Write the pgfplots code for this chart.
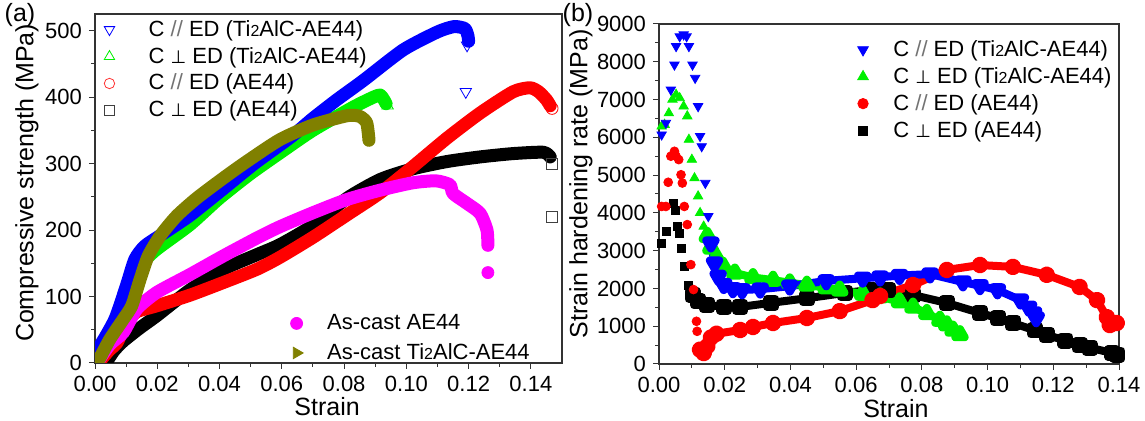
\documentclass[border=0pt]{standalone}
\usepackage{pgfplots}
\pgfplotsset{compat=1.18}
\usepackage{fontspec}
\setmainfont{Liberation Sans}
\newfontfamily\dv{DejaVu Sans}

\definecolor{olv}{RGB}{128,128,0}
\definecolor{mgt}{RGB}{255,0,255}
\definecolor{grn}{RGB}{0,240,0}

\newcommand{\Ti}{Ti{\fontsize{8}{8}\selectfont 2}AlC}
\newcommand{\pll}{{\color{black!55}//}}
\newcommand{\prp}{{\dv\fontsize{9}{9}\selectfont ⊥}}

\pgfplotsset{
  base/.style={
    scale only axis,
    axis line style={line width=0.6pt, black!80},
    tick align=outside,
    xtick pos=bottom, ytick pos=left,
    major tick length=3pt, minor tick length=1.8pt,
    every tick/.style={black!80, line width=0.5pt},
    /pgf/number format/assume math mode=true,
    tick label style={font=\fontsize{11}{13}\selectfont},
    label style={font=\fontsize{12.5}{14}\selectfont},
    legend cell align=left,
    legend style={draw=none, fill=none, font=\fontsize{11}{12.5}\selectfont,
      row sep=0pt, inner sep=0pt,
      /tikz/every odd column/.append style={column sep=15pt}},
  },
  band/.style={line width=6.5pt, line cap=round, line join=round, smooth, tension=0.4, forget plot},
  dense/.style={line width=4pt, line join=round},
}

\begin{document}
\begin{tikzpicture}
\path[use as bounding box] (0,0) rectangle (572.5pt,210.5pt);

% ---------------- (a) ----------------
\begin{axis}[base,
  at={(47.5pt,29pt)}, anchor=south west,
  width=233.5pt, height=174.5pt,
  xmin=0, xmax=0.15, ymin=0, ymax=525,
  xtick={0,0.02,0.04,0.06,0.08,0.10,0.12,0.14},
  ytick={0,100,200,300,400,500},
  minor x tick num=1, minor y tick num=1,
  xticklabel style={/pgf/number format/.cd, fixed, fixed zerofill, precision=2},
  xlabel={Strain}, ylabel={Compressive strength (MPa)},
  xlabel style={at={(axis description cs:0.497,-0.126)}, anchor=center},
  ylabel style={at={(axis description cs:-0.146,0.516)}, anchor=center},
  legend style={at={(axis description cs:0.019,0.995)}, anchor=north west},
]
\addlegendimage{only marks, mark=triangle, mark size=3pt, mark options={rotate=180}, blue}
\addlegendentry{C \pll\ ED (\Ti-AE44)}
\addlegendimage{only marks, mark=triangle, mark size=3pt, grn}
\addlegendentry{C \prp\ ED (\Ti-AE44)}
\addlegendimage{only marks, mark=o, mark size=2.6pt, red!80}
\addlegendentry{C \pll\ ED (AE44)}
\addlegendimage{only marks, mark=square, mark size=2.4pt, black!75}
\addlegendentry{C \prp\ ED (AE44)}

% C perp ED (Ti2AlC-AE44)
\addplot[band, grn] coordinates {
(0,0)(0.004,20)(0.008,55)(0.011,100)(0.013,140)(0.0145,148)(0.0198,171)(0.0305,208)
(0.04,248)(0.05,285)(0.06,318)(0.07,350)(0.083,385)(0.0895,400)(0.0916,403)
(0.0928,396)(0.0935,390)};
% C // ED (Ti2AlC-AE44)
\addplot[band, blue] coordinates {
(0,20)(0.0016,26)(0.0064,66)(0.0102,118)(0.0128,156)(0.016,176)(0.022,195)
(0.0305,222)(0.0412,262)(0.0512,300)(0.0629,340)(0.070,368)(0.0777,396)(0.0862,425)
(0.099,471)(0.110,498)(0.1153,506)(0.1188,503)(0.1198,492)(0.12,484)};
% C perp ED (AE44)
\addplot[band, black] coordinates {
(0.0035,0)(0.006,18)(0.0091,33)(0.0145,53)(0.0198,71)(0.0305,110)(0.0412,141)
(0.052,163)(0.0594,178)(0.070,207)(0.081,248)(0.0916,276)(0.102,292)(0.113,303)
(0.1237,310)(0.1343,315)(0.144,317)(0.1462,310)};
% C // ED (AE44)
\addplot[band, red] coordinates {
(0.001,0)(0.0047,20)(0.007,30)(0.0102,61)(0.0134,77)(0.0198,86)(0.0305,102)
(0.0412,121)(0.052,141)(0.0594,159)(0.070,189)(0.081,223)(0.0916,256)(0.102,295)
(0.113,338)(0.1237,376)(0.1343,408)(0.1397,414)(0.1425,408)(0.145,396)(0.1462,387)};
% As-cast AE44
\addplot[band, mgt] coordinates {
(0.0012,4)(0.0048,28)(0.0091,46)(0.0134,81)(0.0198,106)(0.0305,133)(0.0412,161)
(0.052,188)(0.0594,205)(0.070,226)(0.081,246)(0.0916,260)(0.102,271)(0.1095,274)
(0.114,268)(0.115,255)(0.1195,240)(0.1237,225)(0.1259,200)(0.1262,177)};
% As-cast Ti2AlC-AE44
\addplot[band, olv] coordinates {
(0.0006,0)(0.0016,8)(0.0048,36)(0.0091,66)(0.0118,86)(0.0145,126)(0.0171,161)
(0.0209,191)(0.0262,221)(0.0327,248)(0.0412,278)(0.0487,303)(0.0594,336)
(0.070,358)(0.081,372)(0.085,371)(0.0872,362)(0.0878,345)(0.088,335)};

% isolated end points
\addplot[only marks, mark=triangle, mark size=3.3pt, mark options={rotate=180}, blue, forget plot]
  coordinates {(0.1195,478)(0.1191,408)};
\addplot[only marks, mark=triangle, mark size=3.3pt, grn, forget plot]
  coordinates {(0.094,387)};
\addplot[only marks, mark=o, mark size=3pt, red, forget plot]
  coordinates {(0.1468,383)};
\addplot[only marks, mark=square, mark size=2.8pt, black!75, forget plot]
  coordinates {(0.1468,299)(0.1468,220)};
\addplot[only marks, mark=*, mark size=3pt, mgt, forget plot]
  coordinates {(0.1262,136)};
\end{axis}

% second legend of (a)
\begin{axis}[base, hide axis,
  at={(47.5pt,29pt)}, anchor=south west,
  width=233.5pt, height=174.5pt,
  xmin=0, xmax=1, ymin=0, ymax=1,
  legend style={at={(axis description cs:0.418,0.152)}, anchor=north west, row sep=1.5pt,
    /tikz/every odd column/.append style={column sep=10pt}},
]
\addlegendimage{only marks, mark=*, mark size=3pt, mgt}
\addlegendentry{As-cast AE44}
\addlegendimage{only marks, mark=triangle*, mark size=3.3pt, mark options={rotate=-90}, olv}
\addlegendentry{As-cast \Ti-AE44}
\end{axis}

% ---------------- (b) ----------------
\begin{axis}[base,
  at={(329.5pt,28.5pt)}, anchor=south west,
  width=230pt, height=170pt,
  xmin=0, xmax=0.14, ymin=0, ymax=9000,
  xtick={0,0.02,0.04,0.06,0.08,0.10,0.12,0.14},
  ytick={0,1000,2000,3000,4000,5000,6000,7000,8000,9000},
  minor x tick num=1, minor y tick num=1,
  xticklabel style={/pgf/number format/.cd, fixed, fixed zerofill, precision=2},
  yticklabel style={/pgf/number format/.cd, 1000 sep={}},
  scaled y ticks=false,
  xlabel={Strain}, ylabel={Strain hardening rate (MPa)},
  xlabel style={at={(axis description cs:0.515,-0.132)}, anchor=center},
  ylabel style={at={(axis description cs:-0.17,0.53)}, anchor=center},
  legend style={at={(axis description cs:0.431,0.965)}, anchor=north west,
    /tikz/every odd column/.append style={column sep=10.5pt}},
]
\addlegendimage{only marks, mark=triangle*, mark size=3.1pt, mark options={rotate=180}, blue}
\addlegendentry{C \pll\ ED (\Ti-AE44)}
\addlegendimage{only marks, mark=triangle*, mark size=3.1pt, grn}
\addlegendentry{C \prp\ ED (\Ti-AE44)}
\addlegendimage{only marks, mark=*, mark size=2.6pt, red}
\addlegendentry{C \pll\ ED (AE44)}
\addlegendimage{only marks, mark=square*, mark size=2.3pt, black}
\addlegendentry{C \prp\ ED (AE44)}

% C perp ED (AE44)
\addplot[only marks, mark=square*, mark size=2pt, black, forget plot] coordinates {
(0.0008,3200)(0.0021,3510)(0.0043,4240)(0.0049,4070)(0.0056,3640)(0.0063,3470)
(0.0069,3070)(0.0077,2590)(0.0088,2070)};
\addplot[dense, black, mark=square*, mark size=2pt, forget plot] coordinates {
(0.0102,1835)(0.0119,1660)(0.0146,1560)(0.0197,1520)(0.0247,1510)(0.0342,1620)
(0.045,1740)(0.0565,1880)(0.0643,1960)(0.0698,1950)(0.0773,1826)(0.0876,1615)
(0.0977,1350)(0.1032,1210)(0.1077,1085)(0.1144,890)(0.118,770)(0.1237,620)
(0.128,500)(0.1311,430)(0.138,290)(0.1395,250)};
% C perp ED (Ti2AlC-AE44)
\addplot[only marks, mark=triangle*, mark size=2.7pt, grn, forget plot] coordinates {
(0.0008,6290)(0.0017,6335)(0.003,6640)(0.0041,7000)(0.0052,7130)(0.0063,7040)
(0.0075,6820)(0.0086,6560)(0.0091,5940)(0.01,5410)(0.0108,4920)(0.0119,4440)
(0.0125,4000)(0.0136,3640)};
\addplot[dense, grn, mark=triangle*, mark size=2.7pt, forget plot] coordinates {
(0.0147,3380)(0.0158,3070)(0.0175,2810)(0.0195,2590)(0.0231,2410)(0.0286,2290)
(0.0347,2220)(0.0398,2150)(0.045,2090)(0.0509,2020)(0.055,1960)(0.062,1850)
(0.0673,1780)(0.0732,1650)(0.0773,1510)(0.0815,1340)(0.0855,1160)(0.0876,1040)
(0.0895,900)(0.0916,780)};
% C // ED (AE44)
\addplot[only marks, mark=*, mark size=2.2pt, red, forget plot] coordinates {
(0.0008,4170)(0.0021,4170)(0.0028,4810)(0.0036,5500)(0.0047,5630)(0.0052,5500)
(0.006,5410)(0.0067,5010)(0.0071,4790)(0.0077,4170)(0.0086,3690)(0.0097,2630)
(0.0105,1970)(0.0114,1130)(0.0116,865)};
\addplot[dense, red, mark=*, mark size=2.2pt, forget plot] coordinates {
(0.0125,380)(0.0136,290)(0.0147,470)(0.0158,700)(0.0175,800)(0.0247,900)
(0.0286,980)(0.0347,1085)(0.045,1218)(0.055,1400)(0.065,1690)(0.0673,1800)
(0.0773,2090)(0.0876,2490)(0.0977,2620)(0.1077,2570)(0.118,2360)(0.128,2040)
(0.1333,1690)(0.1363,1240)(0.1372,1030)(0.1393,1085)};
% C // ED (Ti2AlC-AE44)
\addplot[only marks, mark=triangle*, mark size=2.7pt, mark options={rotate=180}, blue, forget plot] coordinates {
(0.0008,6070)(0.0021,6380)(0.0036,7260)(0.0047,7920)(0.0052,8410)(0.0063,8670)
(0.0075,8720)(0.0084,8670)(0.0091,8410)(0.0102,7920)(0.011,7570)(0.0119,6820)
(0.0125,6030)(0.013,5760)(0.0141,4790)(0.015,3910)};
\addplot[dense, blue, mark=triangle*, mark size=2.7pt, mark options={rotate=180}, forget plot] coordinates {
(0.0158,3200)(0.0169,2670)(0.018,2320)(0.0197,2100)(0.0225,1990)(0.0253,1960)
(0.0308,1980)(0.0398,2060)(0.0509,2200)(0.062,2270)(0.0673,2300)(0.0732,2340)
(0.0825,2380)(0.0925,2170)(0.0977,2070)(0.103,1960)(0.110,1690)(0.1125,1500)
(0.114,1350)(0.1148,1220)};
\end{axis}

\node at (10pt,203pt) {\fontsize{12.5}{14}\selectfont (a)};
\node at (289pt,203pt) {\fontsize{12.5}{14}\selectfont (b)};
\end{tikzpicture}
\end{document}
